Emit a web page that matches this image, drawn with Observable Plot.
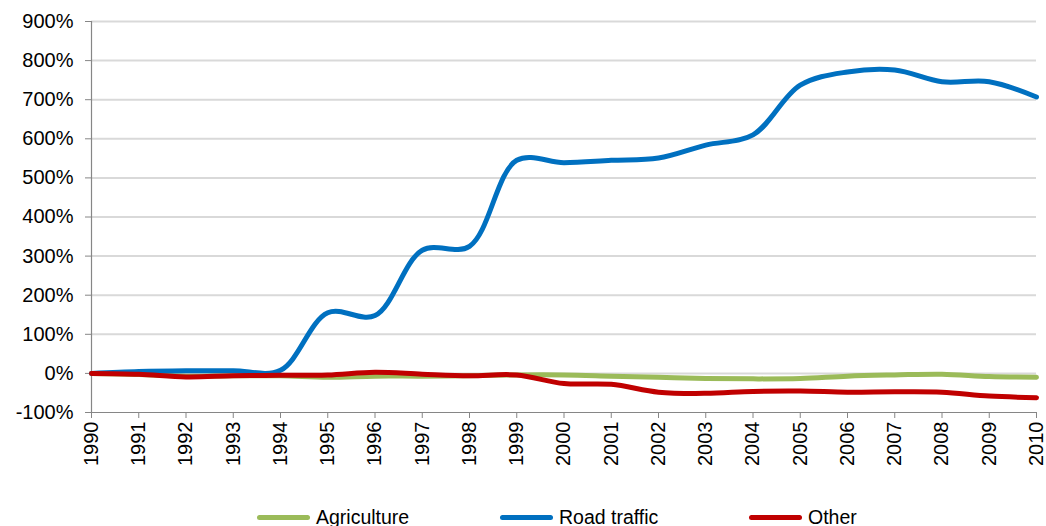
<!DOCTYPE html>
<html>
<head>
<meta charset="utf-8">
<script src="https://cdn.jsdelivr.net/npm/d3@7"></script>
<script src="https://cdn.jsdelivr.net/npm/@observablehq/plot@0.6"></script>
<style>
  html, body { margin: 0; padding: 0; background: #fff; overflow: hidden; }
  #wrap { position: relative; width: 1046px; height: 526px; font-family: "Liberation Sans", Arial, sans-serif; }
  #legend { position: absolute; left: 0; top: 506px; width: 1046px; height: 22px; }
  .item { position: absolute; top: 0; display: flex; align-items: center; height: 22px; font-size: 19.5px; color: #000; }
  .swatch { width: 53px; height: 5px; border-radius: 3px; margin-right: 6px; }
</style>
</head>
<body>
<div id="wrap">
  <div id="chart"></div>
  <div id="legend"></div>
</div>
<script>
const years = [1990,1991,1992,1993,1994,1995,1996,1997,1998,1999,2000,2001,2002,2003,2004,2005,2006,2007,2008,2009,2010];
const agriculture = [0,-3,-7,-6,-6,-10,-7,-7,-6,-4,-4,-7,-10,-13,-14,-13,-7,-4,-2,-8,-10];
const roadTraffic = [0,5,7,7,8,155,148,315,325,545,539,545,551,584,610,737,771,776,746,746,707];
const other = [0,-2,-9,-6,-5,-4,3,-2,-6,-4,-26,-28,-48,-51,-46,-45,-48,-47,-48,-58,-62];
const seriesNames = ["Agriculture","Road traffic","Other"];
const seriesColors = ["#9bbb59","#0070c0","#c00000"];
const yTicks = [-100,0,100,200,300,400,500,600,700,800,900];

const seriesValues = [agriculture, roadTraffic, other];
const tables = seriesValues.map(vals => years.map((yr, i) => ({year: yr, value: vals[i]})));

const chart = Plot.plot({
  width: 1046,
  height: 500,
  marginLeft: 91,
  marginRight: 10,
  marginTop: 21,
  marginBottom: 88,
  style: {fontFamily: "'Liberation Sans', Arial, sans-serif", fontSize: "20px", background: "#fff", color: "#000"},
  x: {domain: [1990, 2010]},
  y: {domain: [-100, 900]},
  marks: [
    Plot.ruleY(yTicks.filter(d => d > -100), {stroke: "#d9d9d9", strokeWidth: 2}),
    Plot.axisY({ticks: yTicks, tickFormat: d => d + "%", tickSize: 6, tickPadding: 12, stroke: "#868686", fill: "#000", label: null}),
    Plot.axisX({ticks: years, tickFormat: d => String(d), tickRotate: -90, tickSize: 6, tickPadding: 3, stroke: "#868686", fill: "#000", label: null}),
    Plot.ruleX([1990], {y1: -100, y2: 900, stroke: "#868686", strokeWidth: 1.2}),
    Plot.ruleY([-100], {stroke: "#868686", strokeWidth: 1.2}),
    ...tables.map((t, k) => Plot.line(t, {x: "year", y: "value", stroke: seriesColors[k], strokeWidth: 5, curve: "catmull-rom", strokeLinecap: "round", strokeLinejoin: "round"}))
  ]
});
document.getElementById("chart").appendChild(chart);

const legend = document.getElementById("legend");
const lefts = [257, 500, 749];
seriesNames.forEach((name, k) => {
  const it = document.createElement("div");
  it.className = "item";
  it.style.left = lefts[k] + "px";
  const sw = document.createElement("span");
  sw.className = "swatch";
  sw.style.background = seriesColors[k];
  const tx = document.createElement("span");
  tx.textContent = name;
  it.appendChild(sw);
  it.appendChild(tx);
  legend.appendChild(it);
});
</script>
</body>
</html>
